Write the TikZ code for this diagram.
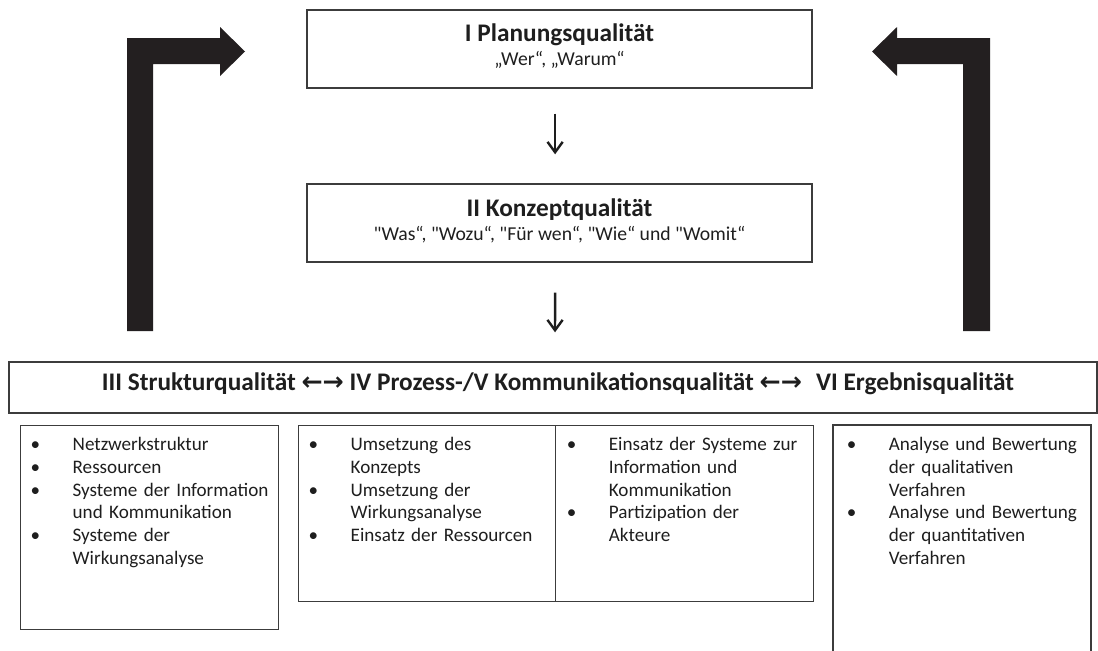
\documentclass[tikz,border=0pt]{standalone}
\usepackage{fontspec}
\setmainfont{Carlito}
\newfontfamily\pfeilfont{DejaVu Sans}
\usetikzlibrary{arrows.meta}

\definecolor{rahmen}{HTML}{3C3C3C}
\definecolor{balken}{HTML}{231F20}
\definecolor{schrift}{HTML}{1E1E1E}

% one bullet line: bullet, then the text hanging under it
\newcommand{\punkt}[1]{\par\noindent\hangindent=10.5mm\hangafter=1\makebox[10.5mm][l]{\textbullet}#1\par}
\newcommand{\gq}{\textquotedbl}

\begin{document}
\begin{tikzpicture}[x=0.25mm,y=-0.25mm]
    \tikzstyle{every node}+=[inner sep=0pt, text=schrift]
    \tikzstyle{kasten}=[draw=rahmen, line width=0.35mm, rectangle]
    \tikzstyle{liste}=[anchor=north west, align=left, text width=62mm, font=\fontsize{13.6}{16.2}\selectfont]
    \tikzstyle{titel}=[font=\bfseries\fontsize{18}{21}\selectfont]
    \tikzstyle{frage}=[font=\fontsize{14}{16}\selectfont]
    \tikzstyle{pfeil}=[draw=schrift, line width=0.6mm, -{Straight Barb[length=2.6mm,width=3.8mm]}]
    \useasboundingbox (0,0) rectangle (1098,650);

    % top boxes
    \node[kasten, minimum width=126.25mm, minimum height=19.5mm] (plan) at (559.5,49) {};
    \node[titel] (plantitel) at (559.5,35) {I Planungsqualität};
    \node[frage] (planfrage) at (559.5,60) {„Wer“, „Warum“};

    \node[kasten, minimum width=126.25mm, minimum height=19.5mm] (konzept) at (559.5,223) {};
    \node[titel] (konzepttitel) at (559.5,210) {II Konzeptqualität};
    \node[frage] (konzeptfrage) at (559.5,235) {\gq Was“, \gq Wozu“, \gq Für wen“, \gq Wie“ und \gq Womit“};

    % wide header
    \node[kasten, minimum width=272mm, minimum height=12.75mm] (kopf) at (553,387.5) {};
    \node[titel] (kopftext) at (558,384) {III Strukturqualität {\pfeilfont ←→} IV Prozess-/V Kommunikationsqualität {\pfeilfont ←→}\,\, VI Ergebnisqualität};

    % down arrows
    \draw[pfeil, shorten <=6.25mm, shorten >=7.25mm] ([xshift=-1.1mm]plan.south) -- ([xshift=-1.1mm]konzept.north);
    \draw[pfeil, shorten <=7.5mm, shorten >=7.25mm] ([xshift=-1.1mm]konzept.south) -- ([xshift=0.5mm]kopf.north);

    % big return arrows
    \fill[balken] (127,331) -- (127,38) -- (220,38) -- (220,27) -- (245,51.5) -- (220,76) -- (220,64) -- (153,64) -- (153,331) -- cycle;
    \fill[balken] (990,331) -- (990,38) -- (897,38) -- (897,27) -- (872,51.5) -- (897,76) -- (897,64) -- (963,64) -- (963,331) -- cycle;

    % lower boxes
    \node[kasten, minimum width=64.5mm, minimum height=51mm, anchor=north west] (struktur) at (20,425) {};
    \node[kasten, minimum width=64.25mm, minimum height=44mm, anchor=north west] (prozess) at (298,425) {};
    \node[kasten, minimum width=64.5mm, minimum height=44mm, anchor=north west] (kommunikation) at (555,425) {};
    \draw[draw=rahmen, line width=0.35mm] (833,652) -- (833,425) -- (1091,425) -- (1091,652);
    \coordinate (ergebnis) at (833,425);

    \node[liste] (strukturliste) at ([shift={(2.6mm,-0.65mm)}]struktur.north west) {%
        \punkt{Netzwerkstruktur}
        \punkt{Ressourcen}
        \punkt{Systeme der Information\newline und Kommunikation}
        \punkt{Systeme der\newline Wirkungsanalyse}};
    \node[liste] (prozessliste) at ([shift={(2.6mm,-0.65mm)}]prozess.north west) {%
        \punkt{Umsetzung des\newline Konzepts}
        \punkt{Umsetzung der\newline Wirkungsanalyse}
        \punkt{Einsatz der Ressourcen}};
    \node[liste] (kommunikationsliste) at ([shift={(2.9mm,-0.65mm)}]kommunikation.north west) {%
        \punkt{Einsatz der Systeme zur\newline Information und\newline Kommunikation}
        \punkt{Partizipation der\newline Akteure}};
    \node[liste] (ergebnisliste) at ([shift={(3.4mm,-0.65mm)}]ergebnis) {%
        \punkt{Analyse und Bewertung\newline der qualitativen\newline Verfahren}
        \punkt{Analyse und Bewertung\newline der quantitativen\newline Verfahren}};
\end{tikzpicture}
\end{document}
